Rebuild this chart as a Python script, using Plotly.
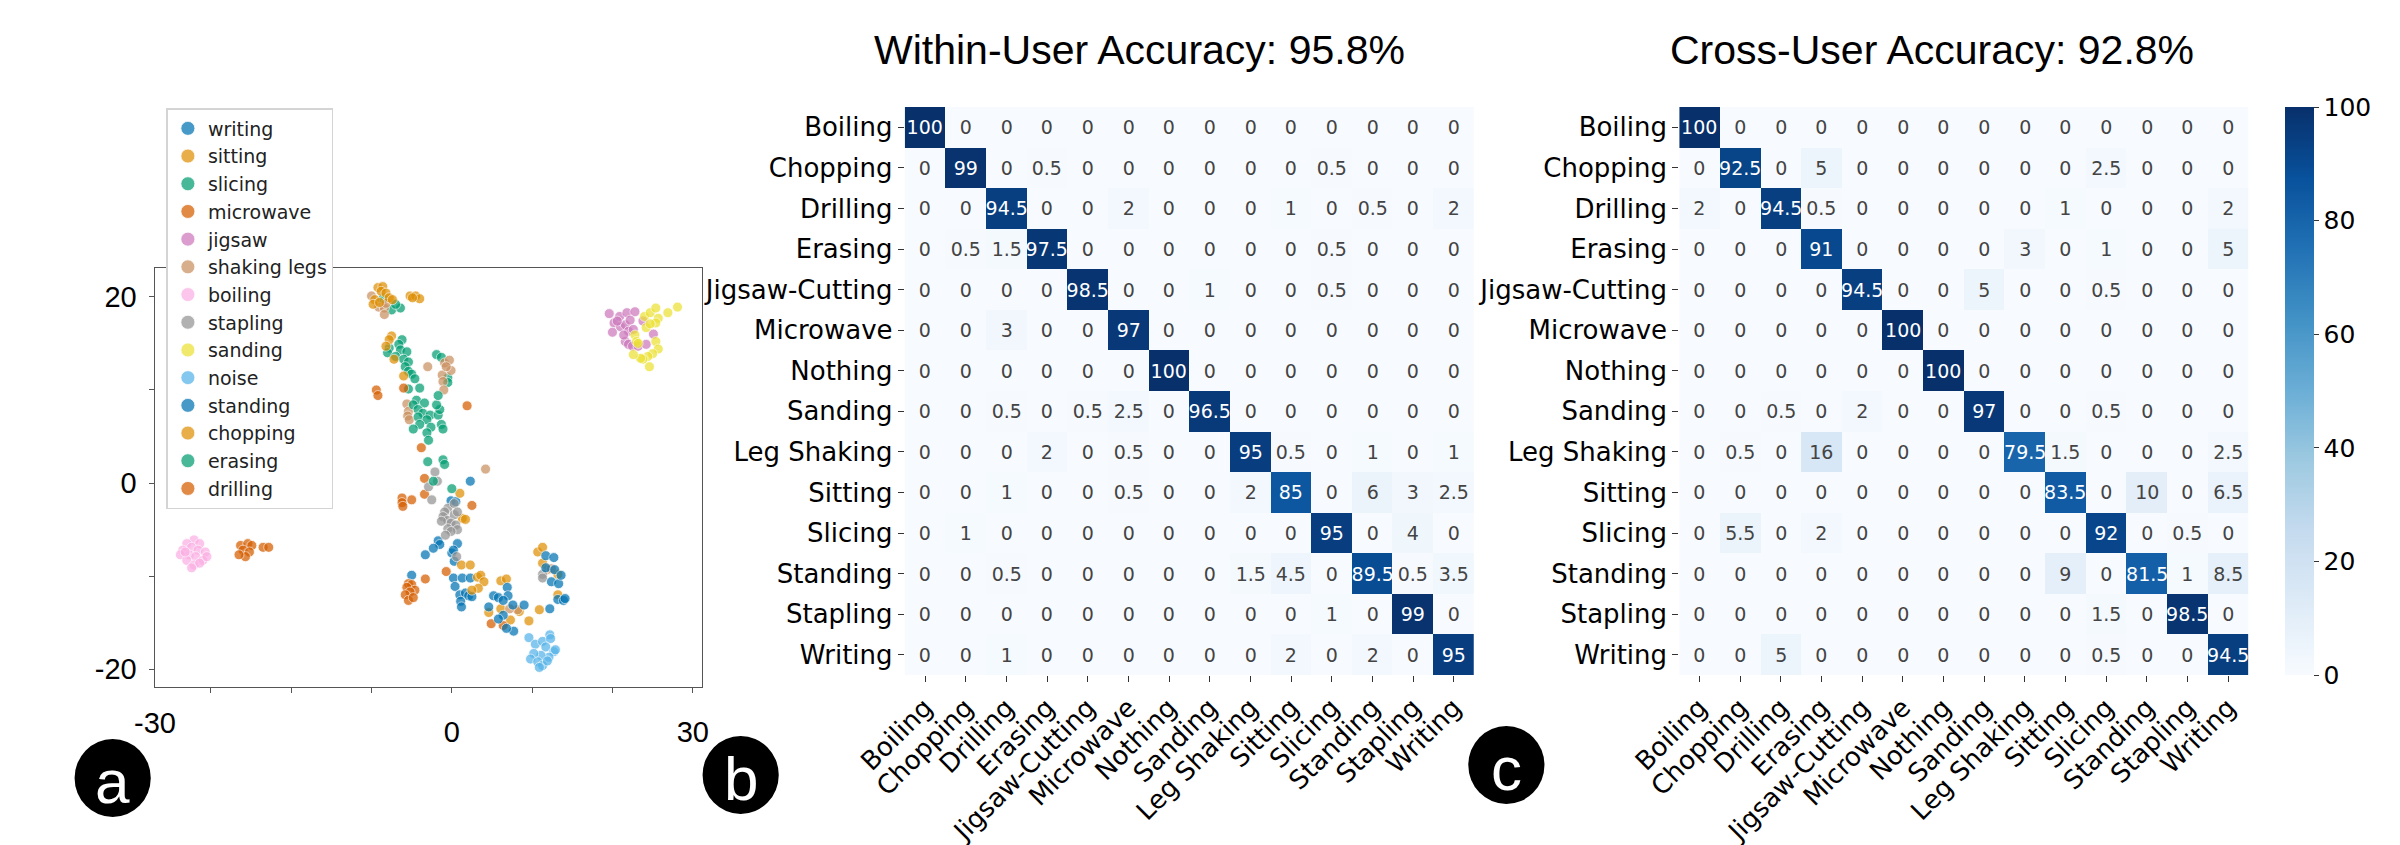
import plotly.graph_objects as go
import plotly.colors as pc

W, H = 2400, 845

# ---------------- data ----------------
labels = ["Boiling", "Chopping", "Drilling", "Erasing", "Jigsaw-Cutting", "Microwave",
          "Nothing", "Sanding", "Leg Shaking", "Sitting", "Slicing", "Standing",
          "Stapling", "Writing"]

within = [
    [100, 0, 0, 0, 0, 0, 0, 0, 0, 0, 0, 0, 0, 0],
    [0, 99, 0, 0.5, 0, 0, 0, 0, 0, 0, 0.5, 0, 0, 0],
    [0, 0, 94.5, 0, 0, 2, 0, 0, 0, 1, 0, 0.5, 0, 2],
    [0, 0.5, 1.5, 97.5, 0, 0, 0, 0, 0, 0, 0.5, 0, 0, 0],
    [0, 0, 0, 0, 98.5, 0, 0, 1, 0, 0, 0.5, 0, 0, 0],
    [0, 0, 3, 0, 0, 97, 0, 0, 0, 0, 0, 0, 0, 0],
    [0, 0, 0, 0, 0, 0, 100, 0, 0, 0, 0, 0, 0, 0],
    [0, 0, 0.5, 0, 0.5, 2.5, 0, 96.5, 0, 0, 0, 0, 0, 0],
    [0, 0, 0, 2, 0, 0.5, 0, 0, 95, 0.5, 0, 1, 0, 1],
    [0, 0, 1, 0, 0, 0.5, 0, 0, 2, 85, 0, 6, 3, 2.5],
    [0, 1, 0, 0, 0, 0, 0, 0, 0, 0, 95, 0, 4, 0],
    [0, 0, 0.5, 0, 0, 0, 0, 0, 1.5, 4.5, 0, 89.5, 0.5, 3.5],
    [0, 0, 0, 0, 0, 0, 0, 0, 0, 0, 1, 0, 99, 0],
    [0, 0, 1, 0, 0, 0, 0, 0, 0, 2, 0, 2, 0, 95],
]

cross = [
    [100, 0, 0, 0, 0, 0, 0, 0, 0, 0, 0, 0, 0, 0],
    [0, 92.5, 0, 5, 0, 0, 0, 0, 0, 0, 2.5, 0, 0, 0],
    [2, 0, 94.5, 0.5, 0, 0, 0, 0, 0, 1, 0, 0, 0, 2],
    [0, 0, 0, 91, 0, 0, 0, 0, 3, 0, 1, 0, 0, 5],
    [0, 0, 0, 0, 94.5, 0, 0, 5, 0, 0, 0.5, 0, 0, 0],
    [0, 0, 0, 0, 0, 100, 0, 0, 0, 0, 0, 0, 0, 0],
    [0, 0, 0, 0, 0, 0, 100, 0, 0, 0, 0, 0, 0, 0],
    [0, 0, 0.5, 0, 2, 0, 0, 97, 0, 0, 0.5, 0, 0, 0],
    [0, 0.5, 0, 16, 0, 0, 0, 0, 79.5, 1.5, 0, 0, 0, 2.5],
    [0, 0, 0, 0, 0, 0, 0, 0, 0, 83.5, 0, 10, 0, 6.5],
    [0, 5.5, 0, 2, 0, 0, 0, 0, 0, 0, 92, 0, 0.5, 0],
    [0, 0, 0, 0, 0, 0, 0, 0, 0, 9, 0, 81.5, 1, 8.5],
    [0, 0, 0, 0, 0, 0, 0, 0, 0, 0, 1.5, 0, 98.5, 0],
    [0, 0, 5, 0, 0, 0, 0, 0, 0, 0, 0.5, 0, 0, 94.5],
]

title_within = "Within-User Accuracy: 95.8%"
title_cross = "Cross-User Accuracy: 92.8%"
cbar_ticks = [0, 20, 40, 60, 80, 100]

# t-SNE embedding points
writing_x = [2.3, -0.1, 0.5, -1.7, -1.5, -2.3, -3.3, 0.7, 0.0, 0.2, 0.3, -5.0, 0.2, 0.4, 1.3, 2.3, 1.0, 1.7, 2.1, 1.1, 1.2, 2.5]
writing_y = [0.2, -1.9, -2.0, -6.2, -6.6, -7.0, -7.7, -6.5, -7.5, -7.2, -8.4, -9.9, -10.2, -11.1, -10.2, -10.2, -12.0, -11.8, -12.1, -12.7, -13.3, -12.2]
sitting_x = [1.0, 1.3, 1.7, 1.2, 2.3, 3.2, 3.6, 4.0, 3.3, 2.5, 6.1, 6.8, 6.1, 4.6, 7.3, 8.4, 9.6, 10.9, 10.7, 11.3, 11.3, 13.2, 13.2]
sitting_y = [-1.1, -3.8, -3.9, -8.8, -8.8, -10.1, -9.9, -10.6, -11.3, -11.5, -10.5, -10.3, -13.5, -13.9, -14.7, -13.8, -14.8, -13.6, -7.4, -6.9, -8.6, -9.8, -12.0]
slicing_x = [-8.6, -7.5, -6.4, -7.0, -6.2, -6.6, -6.4, -5.6, -7.8, -8.0, -7.0, -6.0, -5.4, -5.8, -5.4, -5.0, -4.6, -5.4, -4.0, -1.9, -1.3, -0.5, -0.5]
slicing_y = [19.8, 18.6, 18.8, 19.2, 15.4, 14.9, 14.3, 14.1, 14.5, 14.0, 13.6, 13.3, 13.0, 12.5, 12.0, 11.7, 11.2, 10.1, 10.2, 13.8, 13.5, 11.3, 10.8]
microwave_x = [-9.4, -9.2, -6.0, -3.8, 1.9, -3.4, -3.4, -5.0, 2.5, -3.3, -0.7, 4.9, 6.4]
microwave_y = [10.0, 9.4, 10.2, 3.8, 8.3, 0.5, -1.2, -1.8, -2.4, -10.3, -9.5, -15.1, -15.3]
jigsaw_x = [19.6, 20.2, 20.9, 21.8, 22.8, 20.0, 21.0, 21.6, 22.2, 20.6, 22.0, 21.6, 22.0, 22.5, 23.2, 24.2, 25.1, 23.8, 21.4, 22.6]
jigsaw_y = [18.2, 17.2, 17.9, 18.3, 18.4, 16.2, 16.8, 17.0, 17.5, 17.4, 16.3, 15.2, 14.9, 14.7, 14.7, 14.9, 16.0, 17.4, 15.9, 16.5]
shaking_x = [-10.0, -9.1, -8.4, -8.4, -8.2, -3.0, -0.9, -0.3, -0.1, -1.2, -1.1, -1.0, -5.6, -5.4, -5.5, -5.3, -0.7, 4.2, 8.2, 7.2, 11.9, 12.4]
shaking_y = [20.1, 18.9, 18.8, 18.1, 19.3, 12.5, 12.9, 13.2, 12.1, 11.6, 10.9, 10.0, 8.5, 7.7, 7.2, 6.8, 12.5, 1.5, -13.6, -13.5, -9.3, -9.2]
boiling_x = [-32.1, -33.0, -31.4, -32.4, -33.5, -31.6, -30.7, -32.7, -33.8, -31.9, -31.0, -33.0, -32.1, -31.4, -32.4, -33.2, -30.5]
boiling_y = [-6.1, -6.5, -6.5, -6.9, -7.2, -7.2, -7.4, -7.7, -7.7, -7.9, -8.3, -8.3, -8.8, -8.6, -9.1, -7.4, -7.9]
stapling_x = [-2.1, -1.8, -2.9, -2.5, -0.5, 0.3, -0.9, -1.1, -0.5, 0.3, 0.7, -0.1, 0.5, -0.5, -1.3, 0.7, -0.1, -0.8, 0.6, 11.3, 11.3]
stapling_y = [1.2, 0.2, -0.4, -1.8, -2.7, -2.2, -3.1, -3.6, -4.0, -3.4, -3.1, -4.3, -4.5, -4.9, -4.1, -5.0, -5.2, -5.6, -7.9, -9.8, -10.2]
sanding_x = [24.0, 24.7, 25.4, 25.7, 25.4, 26.9, 28.1, 24.2, 22.8, 23.0, 25.4, 25.7, 25.0, 24.4, 23.8, 23.5, 24.6, 22.6, 23.2, 24.7]
sanding_y = [17.9, 18.3, 18.8, 17.7, 17.2, 18.3, 18.9, 16.7, 15.9, 15.2, 15.2, 14.4, 13.9, 13.6, 13.3, 13.4, 12.5, 13.8, 15.0, 17.1]
noise_x = [9.6, 10.4, 11.3, 12.2, 12.3, 11.7, 12.7, 12.1, 11.1, 10.2, 9.8, 10.7, 11.3, 11.9, 10.9, 12.9]
noise_y = [-16.6, -17.3, -17.0, -16.3, -16.7, -17.6, -18.1, -18.7, -18.5, -18.3, -18.9, -19.2, -19.6, -19.1, -19.8, -17.9]
standing_x = [6.9, 5.2, 7.0, 5.8, 6.4, 4.6, 6.4, 5.8, 7.6, 9.0, 7.7, 6.8, 12.2, 11.7, 12.7, 11.7, 12.8, 12.4, 13.3, 13.6, 13.2, 13.9, 14.1]
standing_y = [-11.2, -12.1, -12.1, -12.3, -12.6, -13.3, -14.2, -14.6, -13.1, -13.1, -15.9, -15.6, -13.5, -7.8, -8.0, -9.1, -9.3, -10.6, -10.8, -9.9, -12.5, -12.6, -12.4]
chopping_x = [-9.2, -8.6, -8.8, -8.2, -9.6, -9.8, -7.8, -7.4, -9.0, -5.2, -4.5, -4.0, -4.9, -7.5, -7.8, -8.2, -7.2, -6.0]
chopping_y = [21.0, 21.1, 20.6, 20.4, 19.7, 19.2, 19.9, 19.7, 19.4, 20.1, 20.1, 19.8, 19.9, 15.8, 15.4, 14.7, 13.3, 11.5]
erasing_x = [-4.4, -4.8, -3.4, -4.2, -3.6, -2.7, -4.2, -3.1, -4.0, -4.8, -2.6, -1.7, -1.5, -1.9, -1.7, -3.1, -2.9, -1.3, -1.1, -3.0, -1.1, -0.9, -2.3, 0.0]
erasing_y = [8.9, 8.4, 8.6, 7.9, 7.5, 7.3, 7.1, 6.8, 6.3, 5.8, 6.0, 7.3, 7.9, 8.4, 9.4, 5.4, 4.6, 6.3, 5.8, 2.3, 2.5, 2.0, 0.2, -0.6]
drilling_x = [-6.2, -6.2, -6.1, -5.4, -5.0, -5.6, -4.6, -5.2, -5.8, -5.4, -4.8, -26.3, -25.4, -24.9, -26.0, -25.2, -25.7, -26.5, -23.5, -22.8]
drilling_y = [-1.6, -2.1, -2.5, -10.8, -10.9, -11.2, -11.5, -11.7, -12.0, -12.6, -12.3, -6.7, -6.5, -6.7, -7.2, -7.4, -7.9, -7.7, -6.9, -6.9]

class_names = ["writing", "sitting", "slicing", "microwave", "jigsaw", "shaking legs",
               "boiling", "stapling", "sanding", "noise", "standing", "chopping",
               "erasing", "drilling"]
class_x = [writing_x, sitting_x, slicing_x, microwave_x, jigsaw_x, shaking_x, boiling_x,
           stapling_x, sanding_x, noise_x, standing_x, chopping_x, erasing_x, drilling_x]
class_y = [writing_y, sitting_y, slicing_y, microwave_y, jigsaw_y, shaking_y, boiling_y,
           stapling_y, sanding_y, noise_y, standing_y, chopping_y, erasing_y, drilling_y]

palette = ["#0173b2", "#de8f05", "#029e73", "#d55e00", "#cc78bc",
           "#ca9161", "#fbafe4", "#949494", "#ece133", "#56b4e9"]


def fmt(v):
    return ("%g" % v)


def px_y(p):
    return 1 - p / H


fig = go.Figure()

# ---------------- scatter (panel a) ----------------
for i, name in enumerate(class_names):
    col = palette[i % 10]
    fig.add_trace(go.Scatter(
        x=class_x[i], y=class_y[i], mode="markers", name=name,
        legendgroup=name, showlegend=False,
        marker=dict(color=col, size=10, opacity=0.72,
                    line=dict(color="white", width=0.8)),
        xaxis="x", yaxis="y", hoverinfo="skip"))
    # legend entry (no data, larger symbol like the reference)
    fig.add_trace(go.Scatter(
        x=[None], y=[None], mode="markers", name=name, legendgroup=name,
        showlegend=True,
        marker=dict(color=col, size=14, opacity=0.72,
                    line=dict(color="white", width=0.8)),
        xaxis="x", yaxis="y", hoverinfo="skip"))

blues = pc.sequential.Blues

# ---------------- heatmaps ----------------
fig.add_trace(go.Heatmap(
    z=within, x=labels, y=labels,
    text=[[fmt(v) for v in row] for row in within], texttemplate="%{text}",
    textfont=dict(family="DejaVu Sans", size=19),
    colorscale=blues, zmin=0, zmax=100, showscale=False,
    xaxis="x2", yaxis="y2", hoverinfo="skip"))

fig.add_trace(go.Heatmap(
    z=cross, x=labels, y=labels,
    text=[[fmt(v) for v in row] for row in cross], texttemplate="%{text}",
    textfont=dict(family="DejaVu Sans", size=19),
    colorscale=blues, zmin=0, zmax=100, showscale=True,
    colorbar=dict(x=2281 / W, xanchor="left", y=px_y(99), yanchor="top",
                  len=568 / H, lenmode="fraction", thickness=29, thicknessmode="pixels",
                  outlinewidth=0, tickvals=cbar_ticks, ticks="outside", ticklen=5,
                  tickcolor="#333", xpad=0, ypad=0,
                  tickfont=dict(family="DejaVu Sans", size=25, color="black")),
    xaxis="x3", yaxis="y3", hoverinfo="skip"))

sc_font = dict(family="Liberation Sans", size=29, color="black")
hm_font = dict(family="DejaVu Sans", size=26, color="black")

fig.update_layout(
    width=W, height=H, margin=dict(l=0, r=0, t=0, b=0),
    paper_bgcolor="white", plot_bgcolor="white",
    showlegend=True,
    legend=dict(x=112 / W, y=px_y(100), xanchor="left", yanchor="top",
                bgcolor="white", bordercolor="#d4d4d4", borderwidth=1.5,
                font=dict(family="DejaVu Sans", size=19, color="#222"),
                tracegroupgap=0, itemsizing="trace"),
    xaxis=dict(domain=[100 / W, 660 / W], range=[-37, 31.1], anchor="y",
               tickvals=[-30, -20, -10, 0, 10, 20, 30],
               ticktext=["", "", "", "0", "", "", "30"],
               ticks="outside", ticklen=5, tickcolor="#555",
               showline=True, mirror=True, linecolor="#555", linewidth=1.3,
               showgrid=False, zeroline=False, tickfont=sc_font, ticklabelstandoff=14),
    yaxis=dict(domain=[1 - 679 / H, 1 - 260 / H], range=[-21.9, 23.1], anchor="x",
               tickvals=[-20, -10, 0, 10, 20], ticktext=["-20", "", "0", "", "20"],
               ticks="outside", ticklen=5, tickcolor="#555",
               showline=True, mirror=True, linecolor="#555", linewidth=1.3,
               showgrid=False, zeroline=False, tickfont=sc_font, ticklabelstandoff=6),
    xaxis2=dict(domain=[868 / W, 1451 / W], anchor="y2", tickangle=-45,
                ticks="outside", ticklen=6, tickcolor="#333", showgrid=False,
                zeroline=False, tickfont=hm_font),
    yaxis2=dict(domain=[1 - 667 / H, 1 - 99 / H], anchor="x2", autorange="reversed",
                ticks="outside", ticklen=6, tickcolor="#333", showgrid=False,
                zeroline=False, tickfont=hm_font),
    xaxis3=dict(domain=[1661 / W, 2244 / W], anchor="y3", tickangle=-45,
                ticks="outside", ticklen=6, tickcolor="#333", showgrid=False,
                zeroline=False, tickfont=hm_font),
    yaxis3=dict(domain=[1 - 667 / H, 1 - 99 / H], anchor="x3", autorange="reversed",
                ticks="outside", ticklen=6, tickcolor="#333", showgrid=False,
                zeroline=False, tickfont=hm_font),
)

annotations = [
    dict(text=title_within, x=1108 / W, y=px_y(42), xref="paper", yref="paper",
         showarrow=False, xanchor="center", yanchor="middle",
         font=dict(family="Liberation Sans", size=41, color="black")),
    dict(text=title_cross, x=1920 / W, y=px_y(42), xref="paper", yref="paper",
         showarrow=False, xanchor="center", yanchor="middle",
         font=dict(family="Liberation Sans", size=41, color="black")),
    dict(text="-30", x=-37, xref="x", y=px_y(715), yref="paper",
         showarrow=False, xanchor="center", yanchor="middle", font=sc_font),
]

shapes = []
for letter, cx, cy in [("a", 57, 770), ("b", 700, 767), ("c", 1484, 757)]:
    r = 39
    shapes.append(dict(type="circle", xref="paper", yref="paper",
                       x0=(cx - r) / W, x1=(cx + r) / W, y0=px_y(cy + r), y1=px_y(cy - r),
                       fillcolor="black", line=dict(color="black", width=0)))
    annotations.append(dict(text=letter, x=cx / W, y=px_y(cy + 3), xref="paper", yref="paper",
                            showarrow=False, xanchor="center", yanchor="middle",
                            font=dict(family="Liberation Sans", size=62, color="white")))

fig.update_layout(annotations=annotations, shapes=shapes)

fig.write_html("out.html")
